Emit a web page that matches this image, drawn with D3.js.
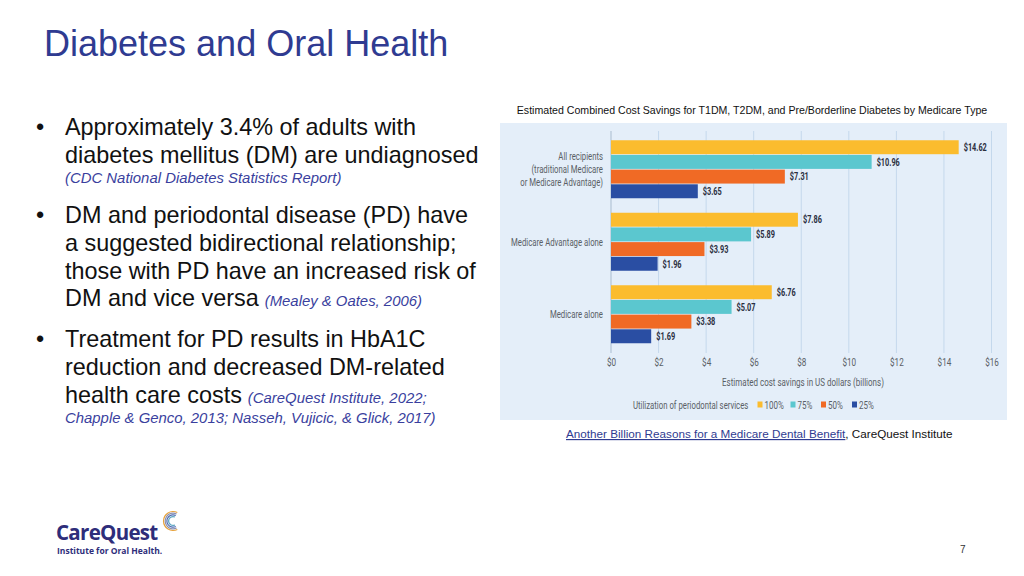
<!DOCTYPE html>
<html>
<head>
<meta charset="utf-8">
<script src="https://cdn.jsdelivr.net/npm/d3@7"></script>
<style>
  html, body { margin: 0; padding: 0; background: #ffffff; }
  svg { display: block; }
  .narrow { font-family: 'Roboto', 'Liberation Sans', sans-serif; }
</style>
</head>
<body>
<svg id="chart" width="1024" height="576"></svg>
<script>
// ---------- data ----------
const pageTitle = "Diabetes and Oral Health";
const chartTitle = "Estimated Combined Cost Savings for T1DM, T2DM, and Pre/Borderline Diabetes by Medicare Type";
const categories = ["All recipients", "Medicare Advantage alone", "Medicare alone"];
const categoryLabelLines = [
  ["All recipients", "(traditional Medicare", "or Medicare Advantage)"],
  ["Medicare Advantage alone"],
  ["Medicare alone"]
];
const seriesNames = ["100%", "75%", "50%", "25%"];
const values100 = [14.62, 7.86, 6.76];
const values75 = [10.96, 5.89, 5.07];
const values50 = [7.31, 3.93, 3.38];
const values25 = [3.65, 1.96, 1.69];
const seriesColors = ["#FBBC2E", "#5BC7CF", "#F06A25", "#2A4EA3"];
const xTickValues = [0, 2, 4, 6, 8, 10, 12, 14, 16];
const xAxisTitle = "Estimated cost savings in US dollars (billions)";
const legendTitle = "Utilization of periodontal services";
const sourceLink = "Another Billion Reasons for a Medicare Dental Benefit";
const sourceRest = ", CareQuest Institute";
const bullets = [
  { lines: ["Approximately 3.4% of adults with", "diabetes mellitus (DM) are undiagnosed"],
    cite: [["", "(CDC National Diabetes Statistics Report)"]] },
  { lines: ["DM and periodontal disease (PD) have", "a suggested bidirectional relationship;", "those with PD have an increased risk of", "DM and vice versa"],
    cite: [["inline", "(Mealey & Oates, 2006)"]] },
  { lines: ["Treatment for PD results in HbA1C", "reduction and decreased DM-related", "health care costs"],
    cite: [["inline", "(CareQuest Institute, 2022;"], ["", "Chapple & Genco, 2013; Nasseh, Vujicic, & Glick, 2017)"]] }
];
const pageNumber = "7";

const seriesValues = [values100, values75, values50, values25];
const table = categories.map((c, i) => ({
  category: c,
  values: seriesNames.map((s, j) => ({ series: s, value: seriesValues[j][i], color: seriesColors[j] }))
}));

// condense helper: squeezes text horizontally around its anchor x (emulates a condensed typeface)
function condense(sel, factor, anchorX) {
  sel.each(function () {
    const ax = anchorX !== undefined ? anchorX : (+this.getAttribute("x") || 0);
    d3.select(this).attr("transform", `translate(${ax},0) scale(${factor},1) translate(${-ax},0)`);
  });
}
const CF = 0.74;

// ---------- drawing ----------
const svg = d3.select("#chart");

// page title
svg.append("text")
  .attr("x", 44).attr("y", 56)
  .attr("font-family", "'Liberation Sans', Arial, sans-serif")
  .attr("font-size", 36)
  .attr("fill", "#2F3B91")
  .text(pageTitle);

// bullets
const bulletG = svg.append("g").attr("font-family", "'Liberation Sans', Arial, sans-serif");
const bulletStarts = [135, 222.7, 347.3];
const lineH = 27.9;
const mainSize = 23.4, citeSize = 14.9;
bullets.forEach((b, bi) => {
  const y0 = bulletStarts[bi];
  bulletG.append("text").attr("x", 36).attr("y", y0).attr("font-size", mainSize).attr("fill", "#111").text("•");
  let lastText = null;
  b.lines.forEach((ln, li) => {
    lastText = bulletG.append("text")
      .attr("x", 65).attr("y", y0 + li * lineH)
      .attr("font-size", mainSize).attr("fill", "#111")
      .text(ln);
  });
  const lastY = y0 + (b.lines.length - 1) * lineH;
  let citeY = lastY;
  b.cite.forEach(([mode, txt]) => {
    if (mode === "inline") {
      const w = lastText.node().getComputedTextLength();
      bulletG.append("text")
        .attr("x", 65 + w + 6).attr("y", lastY)
        .attr("font-size", citeSize).attr("font-style", "italic").attr("fill", "#3A3F9E")
        .text(txt);
    } else {
      citeY = citeY + 20;
      bulletG.append("text")
        .attr("x", 65).attr("y", citeY)
        .attr("font-size", citeSize).attr("font-style", "italic").attr("fill", "#3A3F9E")
        .text(txt);
    }
  });
});

// chart title
svg.append("text")
  .attr("x", 752).attr("y", 114)
  .attr("text-anchor", "middle")
  .attr("font-family", "'Liberation Sans', Arial, sans-serif")
  .attr("font-size", 10.6)
  .attr("fill", "#111")
  .text(chartTitle);

// panel
svg.append("rect")
  .attr("x", 500).attr("y", 123).attr("width", 507).attr("height", 297)
  .attr("fill", "#E4EEF9");

const x = d3.scaleLinear().domain([0, 16]).range([611, 991.5]);
const y0 = d3.scaleBand().domain(categories).range([133, 350.5]).paddingInner(0.2).paddingOuter(0.1);
const y1 = d3.scaleBand().domain(seriesNames).range([0, y0.bandwidth()]).paddingInner(0.05);

// gridlines
svg.append("g").selectAll("line").data(xTickValues).join("line")
  .attr("x1", d => x(d)).attr("x2", d => x(d))
  .attr("y1", 131).attr("y2", 353)
  .attr("stroke", d => d === 0 ? "#A9BCCF" : "#C4D8EC")
  .attr("stroke-width", 1);

// x axis tick labels via d3 axis
const xAxis = d3.axisBottom(x).tickValues(xTickValues).tickFormat(d => "$" + d).tickSize(0).tickPadding(0);
const axG = svg.append("g").attr("transform", "translate(0,358)").call(xAxis);
axG.select(".domain").remove();
axG.selectAll("text")
  .attr("class", "narrow")
  .attr("font-family", "Roboto, sans-serif")
  .attr("font-size", 11)
  .attr("fill", "#5A5F66")
  .call(condense, CF, 0);

svg.append("text").attr("class", "narrow")
  .attr("x", 803).attr("y", 386)
  .attr("text-anchor", "middle")
  .attr("font-size", 10.8).attr("fill", "#5A5F66")
  .text(xAxisTitle)
  .call(condense, CF);

// bars
const groups = svg.append("g").selectAll("g").data(table).join("g")
  .attr("transform", d => `translate(0,${y0(d.category)})`);
groups.selectAll("rect").data(d => d.values).join("rect")
  .attr("x", x(0))
  .attr("y", d => y1(d.series))
  .attr("width", d => x(d.value) - x(0))
  .attr("height", y1.bandwidth())
  .attr("fill", d => d.color);
groups.selectAll("text.val").data(d => d.values).join("text")
  .attr("class", "val narrow")
  .attr("x", d => x(d.value) + 5)
  .attr("y", d => y1(d.series) + y1.bandwidth() / 2)
  .attr("dy", "0.35em")
  .attr("font-size", 10.8).attr("font-weight", "bold")
  .attr("fill", "#2B2F3F")
  .text(d => "$" + d.value.toFixed(2))
  .call(condense, 0.68);

// category labels
svg.append("g").selectAll("text").data(table).join("text")
  .attr("class", "narrow")
  .attr("text-anchor", "end")
  .attr("font-size", 10.8).attr("fill", "#5A5F66")
  .each(function (d, i) {
    const lines = categoryLabelLines[i];
    const cy = y0(d.category) + y0.bandwidth() / 2;
    const lh = 12.8;
    const sel = d3.select(this);
    lines.forEach((ln, li) => {
      sel.append("tspan")
        .attr("x", 603)
        .attr("y", cy + (li - (lines.length - 1) / 2) * lh)
        .attr("dy", "0.35em")
        .text(ln);
    });
  })
  .call(condense, 0.72, 603);

// legend
const legG = svg.append("g").attr("class", "narrow").attr("font-size", 10.8).attr("fill", "#5A5F66");
legG.append("text").attr("x", 633).attr("y", 409).text(legendTitle).call(condense, 0.72);
const legX = [757.5, 790.5, 821, 852];
seriesNames.forEach((s, i) => {
  legG.append("rect").attr("x", legX[i]).attr("y", 401.5).attr("width", 5).attr("height", 6).attr("fill", seriesColors[i]);
  legG.append("text").attr("x", legX[i] + 7).attr("y", 409).text(s).call(condense, CF);
});

// source
const src = svg.append("text")
  .attr("x", 566).attr("y", 438)
  .attr("font-family", "'Liberation Sans', Arial, sans-serif")
  .attr("font-size", 11.7);
src.append("tspan").attr("fill", "#2F3B91").attr("text-decoration", "underline").text(sourceLink);
src.append("tspan").attr("fill", "#111").text(sourceRest);

// logo
const logo = svg.append("g").attr("font-family", "'Open Sans', 'Liberation Sans', sans-serif").attr("fill", "#2E2D7A");
logo.append("text").attr("x", 56).attr("y", 540).attr("font-size", 20.5).attr("font-weight", "bold").attr("letter-spacing", -0.7).text("CareQuest");
logo.append("text").attr("x", 57).attr("y", 554).attr("font-size", 8.5).attr("font-weight", "bold").text("Institute for Oral Health.");
const arcCols = ["#E7A23B", "#8A8FB0", "#4E6BB2", "#5FA7C2"];
arcCols.forEach((c, i) => {
  const r = 9.5 - i * 1.7;
  const arc = d3.arc().innerRadius(r - 0.6).outerRadius(r + 0.6).startAngle(0.85 * Math.PI).endAngle(2.15 * Math.PI);
  svg.append("path").attr("d", arc()).attr("transform", "translate(173,521)").attr("fill", c);
});

// page number
svg.append("text").attr("x", 960).attr("y", 553)
  .attr("font-family", "'Liberation Sans', Arial, sans-serif")
  .attr("font-size", 10).attr("fill", "#333").text(pageNumber);
</script>
</body>
</html>
